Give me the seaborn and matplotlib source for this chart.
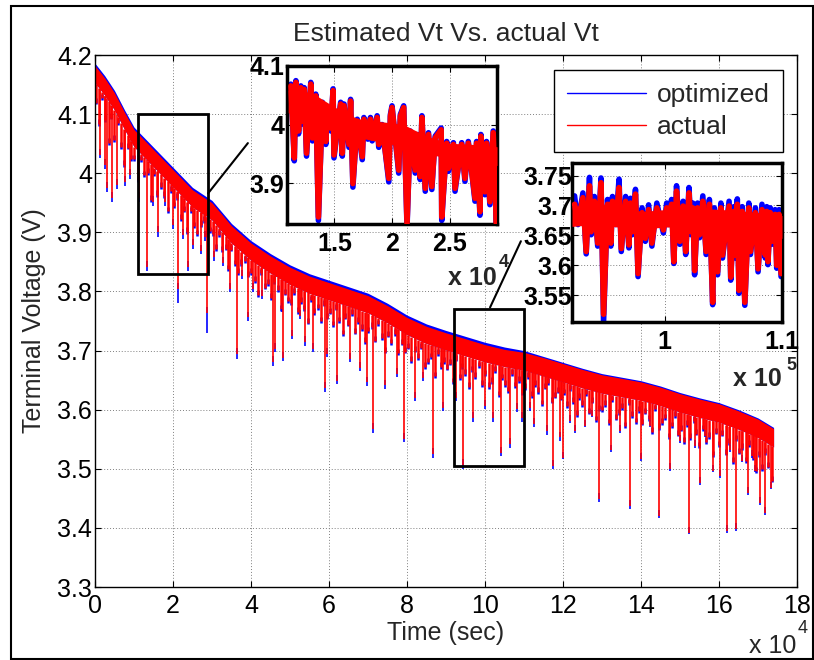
import numpy as np
import matplotlib
matplotlib.use("Agg")
import matplotlib.pyplot as plt
import seaborn as sns
from matplotlib.patches import Rectangle
from matplotlib.lines import Line2D

# time axis in units of 1e4 s
t_env = [0, 0.25, 0.5, 0.75, 1, 1.5, 2, 2.5, 3, 3.5, 4, 4.5, 5, 5.5, 6, 6.5, 7, 7.5, 8, 8.5,
         9, 9.5, 10, 10.5, 11, 11.5, 12, 12.5, 13, 13.5, 14, 14.5, 15, 15.5, 16, 16.5, 17, 17.4]
# upper edge of the dense voltage band
top_opt = [4.186, 4.165, 4.140, 4.108, 4.078, 4.044, 4.010, 3.976, 3.954, 3.915, 3.886, 3.864,
           3.845, 3.830, 3.819, 3.808, 3.797, 3.780, 3.760, 3.745, 3.734, 3.724, 3.714, 3.706,
           3.700, 3.690, 3.680, 3.670, 3.661, 3.655, 3.649, 3.640, 3.629, 3.620, 3.612, 3.600,
           3.586, 3.570]
top_act = [4.182, 4.161, 4.136, 4.104, 4.074, 4.040, 4.006, 3.972, 3.950, 3.911, 3.882, 3.860,
           3.841, 3.826, 3.815, 3.804, 3.793, 3.776, 3.756, 3.741, 3.730, 3.720, 3.710, 3.702,
           3.697, 3.688, 3.678, 3.668, 3.659, 3.653, 3.647, 3.638, 3.627, 3.618, 3.610, 3.598,
           3.584, 3.568]
# lower edge of the solid part of the band
band_mid = [4.153, 4.132, 4.107, 4.075, 4.045, 4.011, 3.977, 3.943, 3.921, 3.882, 3.853, 3.831,
            3.812, 3.797, 3.786, 3.775, 3.764, 3.747, 3.727, 3.712, 3.701, 3.691, 3.681, 3.673,
            3.667, 3.657, 3.647, 3.637, 3.628, 3.622, 3.616, 3.607, 3.596, 3.587, 3.579, 3.567,
            3.553, 3.537]

# many short dips below the band top (depth in V)
mod_t = [0.03, 0.10, 0.18, 0.26, 0.35, 0.42, 0.50, 0.59, 0.67, 0.75, 0.84, 0.92,
         1.01, 1.09, 1.18, 1.26, 1.35, 1.43, 1.52, 1.60, 1.69, 1.77, 1.86, 1.94,
         2.03, 2.11, 2.20, 2.28, 2.37, 2.45, 2.54, 2.62, 2.71, 2.79, 2.88, 2.96,
         3.03, 3.10, 3.18, 3.26, 3.35, 3.42, 3.50, 3.59, 3.67, 3.75, 3.84, 3.92,
         4.01, 4.09, 4.18, 4.26, 4.35, 4.43, 4.52, 4.60, 4.69, 4.77, 4.86, 4.94,
         5.03, 5.11, 5.20, 5.28, 5.37, 5.45, 5.54, 5.62, 5.71, 5.79, 5.88, 5.96,
         6.03, 6.10, 6.18, 6.26, 6.35, 6.42, 6.50, 6.59, 6.67, 6.75, 6.84, 6.92,
         7.01, 7.09, 7.18, 7.26, 7.35, 7.43, 7.52, 7.60, 7.69, 7.77, 7.86, 7.94,
         8.03, 8.11, 8.20, 8.28, 8.37, 8.45, 8.54, 8.62, 8.71, 8.79, 8.88, 8.96,
         9.03, 9.10, 9.18, 9.26, 9.35, 9.42, 9.50, 9.59, 9.67, 9.75, 9.84, 9.92,
         10.01, 10.09, 10.18, 10.26, 10.35, 10.43, 10.52, 10.60, 10.69, 10.77, 10.86, 10.94,
         11.03, 11.11, 11.20, 11.28, 11.37, 11.45, 11.54, 11.62, 11.71, 11.79, 11.88, 11.96,
         12.03, 12.10, 12.18, 12.26, 12.35, 12.42, 12.50, 12.59, 12.67, 12.75, 12.84, 12.92,
         13.01, 13.09, 13.18, 13.26, 13.35, 13.43, 13.52, 13.60, 13.69, 13.77, 13.86, 13.94,
         14.03, 14.11, 14.20, 14.28, 14.37, 14.45, 14.54, 14.62, 14.71, 14.79, 14.88, 14.96,
         15.03, 15.10, 15.18, 15.26, 15.35, 15.42, 15.50, 15.59, 15.67, 15.75, 15.84, 15.92,
         16.01, 16.09, 16.18, 16.26, 16.35, 16.43, 16.52, 16.60, 16.69, 16.77, 16.86, 16.94,
         17.03, 17.10, 17.18, 17.26, 17.35]
mod_depth = [0.06, 0.09, 0.04, 0.07, 0.10, 0.05, 0.08, 0.04, 0.07, 0.09, 0.05, 0.06,
             0.05, 0.08, 0.04, 0.06, 0.05, 0.09, 0.04, 0.07, 0.05, 0.06, 0.08, 0.04,
             0.06, 0.04, 0.07, 0.05, 0.08, 0.04, 0.06, 0.07, 0.05, 0.04, 0.06, 0.05,
             0.05, 0.07, 0.04, 0.06, 0.05, 0.08, 0.04, 0.06, 0.07, 0.05, 0.04, 0.06,
             0.05, 0.06, 0.08, 0.04, 0.06, 0.05, 0.07, 0.04, 0.05, 0.08, 0.05, 0.06,
             0.06, 0.04, 0.07, 0.05, 0.06, 0.08, 0.04, 0.06, 0.05, 0.07, 0.04, 0.06,
             0.05, 0.07, 0.04, 0.06, 0.08, 0.05, 0.06, 0.04, 0.07, 0.05, 0.06, 0.08,
             0.06, 0.05, 0.07, 0.04, 0.06, 0.08, 0.05, 0.06, 0.04, 0.07, 0.05, 0.06,
             0.05, 0.07, 0.05, 0.06, 0.04, 0.07, 0.06, 0.05, 0.08, 0.04, 0.06, 0.05,
             0.06, 0.05, 0.08, 0.04, 0.07, 0.05, 0.06, 0.08, 0.05, 0.06, 0.04, 0.07,
             0.05, 0.07, 0.06, 0.04, 0.08, 0.05, 0.06, 0.07, 0.04, 0.06, 0.05, 0.07,
             0.06, 0.04, 0.07, 0.05, 0.06, 0.08, 0.05, 0.04, 0.07, 0.06, 0.05, 0.06,
             0.05, 0.07, 0.04, 0.06, 0.08, 0.05, 0.06, 0.04, 0.07, 0.05, 0.08, 0.06,
             0.06, 0.05, 0.08, 0.04, 0.07, 0.06, 0.05, 0.08, 0.04, 0.06, 0.07, 0.05,
             0.07, 0.05, 0.06, 0.08, 0.04, 0.07, 0.06, 0.05, 0.08, 0.06, 0.04, 0.07,
             0.06, 0.08, 0.05, 0.07, 0.04, 0.06, 0.08, 0.05, 0.07, 0.06, 0.09, 0.05,
             0.07, 0.05, 0.08, 0.06, 0.09, 0.05, 0.07, 0.06, 0.08, 0.05, 0.07, 0.09,
             0.06, 0.08, 0.05, 0.07, 0.09]

# deep downward spikes (tips)
spike_t = [0.128, 0.256, 0.308, 0.436, 0.564, 0.769, 0.897,
           1.128, 1.333, 1.487, 1.615, 1.795, 2.000, 2.128, 2.256, 2.385, 2.513, 2.718, 2.821, 2.872,
           3.051, 3.282, 3.462, 3.641, 3.769, 3.923,
           4.051, 4.282, 4.564, 4.615, 4.795, 4.821,
           5.051, 5.256, 5.385, 5.590, 5.897, 5.949,
           6.205, 6.538, 6.795, 6.974,
           7.128, 7.436, 7.744, 7.923,
           8.205, 8.410, 8.667, 8.923,
           9.256, 9.436, 9.692,
           10.000, 10.205, 10.410, 10.641, 10.821, 10.949,
           11.154, 11.256, 11.590, 11.744, 11.923,
           12.000, 12.179, 12.308, 12.564, 12.744, 12.923,
           13.231, 13.462, 13.718,
           14.000, 14.231, 14.462, 14.744,
           15.000, 15.231, 15.385, 15.513, 15.641, 15.846,
           16.026, 16.205, 16.282, 16.436, 16.590, 16.744, 16.846, 16.923,
           17.051, 17.179, 17.333]
spike_act = [4.031, 4.014, 3.975, 3.958, 3.980, 3.985, 3.997,
             3.958, 3.841, 3.951, 3.900, 3.951, 3.912, 3.805, 3.895, 3.841, 3.878, 3.869, 3.892, 3.764,
             3.858, 3.849, 3.805, 3.695, 3.827, 3.756,
             3.805, 3.793, 3.680, 3.703, 3.771, 3.688,
             3.725, 3.759, 3.714, 3.703, 3.636, 3.695,
             3.649, 3.686, 3.671, 3.646,
             3.568, 3.641, 3.661, 3.551,
             3.620, 3.654, 3.525, 3.603,
             3.620, 3.507, 3.586,
             3.607, 3.586, 3.527, 3.542, 3.602, 3.586,
             3.603, 3.576, 3.564, 3.505, 3.553,
             3.519, 3.581, 3.564, 3.573, 3.590, 3.449,
             3.531, 3.564, 3.437,
             3.517, 3.573, 3.420, 3.500,
             3.547, 3.392, 3.539, 3.476, 3.556, 3.497,
             3.488, 3.395, 3.531, 3.398, 3.514, 3.459, 3.522, 3.497,
             3.442, 3.425, 3.468]
spike_opt = [4.025, 4.008, 3.969, 3.952, 3.974, 3.979, 3.991,
             3.952, 3.834, 3.945, 3.892, 3.945, 3.905, 3.780, 3.889, 3.835, 3.872, 3.863, 3.886, 3.729,
             3.852, 3.843, 3.799, 3.686, 3.821, 3.750,
             3.799, 3.787, 3.674, 3.697, 3.765, 3.682,
             3.719, 3.753, 3.708, 3.697, 3.630, 3.689,
             3.643, 3.680, 3.665, 3.640,
             3.560, 3.635, 3.655, 3.545,
             3.614, 3.648, 3.519, 3.597,
             3.614, 3.500, 3.580,
             3.601, 3.580, 3.521, 3.536, 3.596, 3.580,
             3.597, 3.570, 3.558, 3.500, 3.547,
             3.516, 3.578, 3.561, 3.570, 3.587, 3.444,
             3.528, 3.561, 3.432,
             3.514, 3.570, 3.417, 3.497,
             3.544, 3.389, 3.536, 3.473, 3.553, 3.494,
             3.485, 3.392, 3.528, 3.395, 3.511, 3.456, 3.519, 3.494,
             3.439, 3.422, 3.465]

# zoom 1 (1.1 - 2.9 x 1e4 s)
t_z1 = [1.124, 1.153, 1.167, 1.190, 1.210, 1.224, 1.239, 1.259, 1.296, 1.311,
        1.339, 1.362, 1.397, 1.426, 1.440, 1.469, 1.489, 1.497, 1.555, 1.569,
        1.584, 1.627, 1.641, 1.661, 1.699, 1.742, 1.756, 1.790, 1.813, 1.828,
        1.871, 1.885, 1.914, 1.972, 1.986, 2.000, 2.058, 2.072, 2.101, 2.130,
        2.158, 2.201, 2.216, 2.244, 2.259, 2.288, 2.316, 2.345, 2.374, 2.426,
        2.431, 2.474, 2.489, 2.532, 2.546, 2.604, 2.632, 2.661, 2.719, 2.733,
        2.762, 2.770, 2.805, 2.819, 2.848, 2.877, 2.905, 2.914]
v_z1_act = [4.066, 3.943, 4.072, 3.989, 4.063, 4.006, 4.060, 3.951, 4.069, 3.977,
            4.049, 3.842, 4.035, 3.971, 4.026, 3.994, 4.058, 3.948, 4.035, 3.951,
            4.032, 3.966, 4.040, 3.899, 4.006, 3.945, 4.009, 3.980, 4.009, 3.977,
            4.012, 3.966, 3.997, 3.908, 4.014, 4.029, 3.922, 4.014, 4.029, 3.831,
            3.986, 3.922, 3.980, 3.911, 4.012, 3.891, 3.983, 3.894, 3.977, 3.991,
            3.842, 3.968, 3.925, 3.966, 3.891, 3.966, 3.908, 3.968, 3.874, 3.968,
            3.851, 3.980, 3.885, 3.968, 3.868, 3.986, 3.831, 3.954]
v_z1_opt = [4.069, 3.938, 4.075, 3.984, 4.066, 4.001, 4.063, 3.946, 4.072, 3.972,
            4.052, 3.836, 4.038, 3.966, 4.029, 3.989, 4.061, 3.943, 4.038, 3.946,
            4.035, 3.961, 4.043, 3.893, 4.009, 3.940, 4.012, 3.975, 4.012, 3.972,
            4.015, 3.961, 4.000, 3.902, 4.017, 4.032, 3.917, 4.017, 4.032, 3.825,
            3.989, 3.917, 3.983, 3.906, 4.015, 3.886, 3.986, 3.889, 3.980, 3.994,
            3.836, 3.971, 3.920, 3.969, 3.886, 3.969, 3.903, 3.971, 3.869, 3.971,
            3.845, 3.983, 3.880, 3.971, 3.863, 3.989, 3.825, 3.957]
# solid core of the zoomed trace
z1_band_t = [1.10, 1.30, 1.50, 1.70, 1.90, 2.10, 2.30, 2.50, 2.70, 2.91]
z1_band_top = [4.058, 4.055, 4.030, 4.010, 4.005, 4.000, 3.980, 3.968, 3.966, 3.962]
z1_band_bot = [4.020, 4.012, 3.990, 3.978, 3.970, 3.962, 3.950, 3.942, 3.938, 3.930]

# zoom 2 (0.92 - 1.1 x 1e5 s)
t_z2 = [9.232, 9.261, 9.303, 9.331, 9.359, 9.373, 9.401, 9.429, 9.457, 9.479,
        9.513, 9.541, 9.555, 9.583, 9.611, 9.630, 9.667, 9.695, 9.709, 9.723,
        9.751, 9.773, 9.807, 9.835, 9.863, 9.891, 9.933, 9.989, 10.017, 10.031,
        10.059, 10.078, 10.101, 10.129, 10.157, 10.179, 10.207, 10.227, 10.240, 10.255,
        10.280, 10.297, 10.325, 10.353, 10.381, 10.409, 10.423, 10.451, 10.479, 10.493,
        10.549, 10.563, 10.590, 10.605, 10.619, 10.633, 10.661, 10.683, 10.717, 10.731,
        10.773, 10.796, 10.829, 10.857, 10.870, 10.880, 10.900, 10.913, 10.941, 10.955,
        10.975, 10.992]
v_z2_act = [3.702, 3.673, 3.713, 3.623, 3.733, 3.656, 3.707, 3.637, 3.738, 3.518,
            3.702, 3.637, 3.707, 3.673, 3.730, 3.628, 3.707, 3.634, 3.704, 3.656,
            3.719, 3.586, 3.688, 3.645, 3.693, 3.637, 3.696, 3.659, 3.696, 3.673,
            3.702, 3.606, 3.724, 3.640, 3.699, 3.623, 3.721, 3.656, 3.696, 3.591,
            3.696, 3.651, 3.707, 3.623, 3.702, 3.538, 3.688, 3.589, 3.696, 3.617,
            3.699, 3.580, 3.690, 3.617, 3.702, 3.558, 3.690, 3.538, 3.696, 3.623,
            3.688, 3.594, 3.693, 3.617, 3.690, 3.606, 3.688, 3.640, 3.685, 3.600,
            3.685, 3.586]
v_z2_opt = [3.716, 3.668, 3.721, 3.619, 3.747, 3.651, 3.715, 3.632, 3.746, 3.505,
            3.710, 3.632, 3.715, 3.668, 3.744, 3.623, 3.715, 3.629, 3.712, 3.651,
            3.727, 3.581, 3.696, 3.640, 3.701, 3.632, 3.704, 3.654, 3.704, 3.668,
            3.710, 3.603, 3.733, 3.635, 3.707, 3.618, 3.730, 3.651, 3.704, 3.584,
            3.704, 3.646, 3.716, 3.618, 3.710, 3.534, 3.696, 3.584, 3.704, 3.612,
            3.707, 3.575, 3.698, 3.612, 3.711, 3.553, 3.698, 3.533, 3.704, 3.618,
            3.696, 3.589, 3.702, 3.612, 3.698, 3.601, 3.696, 3.635, 3.693, 3.595,
            3.693, 3.581]
z2_band_t = [9.21, 9.40, 9.60, 9.80, 10.00, 10.20, 10.40, 10.60, 10.80, 11.00]
z2_band_top = [3.698, 3.702, 3.700, 3.690, 3.693, 3.698, 3.694, 3.692, 3.688, 3.683]
z2_band_bot = [3.665, 3.668, 3.664, 3.660, 3.664, 3.664, 3.658, 3.655, 3.650, 3.645]

zoom1_xlim, zoom1_ylim = (1.09, 2.91), (3.83, 4.10)
zoom2_xlim, zoom2_ylim = (9.21, 11.0), (3.505, 3.771)

sns.set_style("ticks")
plt.rcParams['font.family'] = ['Liberation Sans', 'DejaVu Sans']
FS = 18


def matlab_look(ax, bold=False):
    ax.grid(True, color='0.5', linestyle=(0, (1, 2)), linewidth=0.7)
    ax.set_axisbelow(True)
    ax.tick_params(direction='in', top=True, right=True, length=4, width=0.8,
                   labelsize=FS, colors='black')
    if bold:
        for lab in ax.get_xticklabels() + ax.get_yticklabels():
            lab.set_fontweight('bold')


def zoom_panel(rect, t, v_opt, v_act, bt, btop, bbot):
    axz = fig.add_axes(rect)
    axz.fill_between(bt, bbot, btop, color='red', lw=0, zorder=3)
    sns.lineplot(x=t, y=v_opt, sort=False, estimator=None, color='blue', lw=4, ax=axz, zorder=2)
    sns.lineplot(x=t, y=v_act, sort=False, estimator=None, color='red', lw=4, ax=axz, zorder=3)
    axz.set_xlabel('')
    axz.set_ylabel('')
    for s in axz.spines.values():
        s.set_linewidth(2.5)
        s.set_color('black')
    return axz


fig = plt.figure(figsize=(8.14, 6.60), dpi=100)
fig.patches.append(Rectangle((0.0135, 0.0015), 0.985, 0.989, transform=fig.transFigure,
                             fill=False, edgecolor='black', lw=1.5))

ax = fig.add_axes([0.1167, 0.1106, 0.8624, 0.806])

# main trace: solid band top, short dips, deep spikes (blue only shows at the tips)
ax.fill_between(t_env, band_mid, top_opt, color='blue', lw=0)
ax.fill_between(t_env, band_mid, top_act, color='red', lw=0)
mod_start = np.interp(mod_t, t_env, band_mid)
mod_tip = np.interp(mod_t, t_env, top_act) - np.array(mod_depth)
ax.vlines(mod_t, mod_tip - 0.003, mod_tip + 0.008, color='blue', lw=1.8)
ax.vlines(mod_t, mod_tip, mod_start, color='red', lw=1.8)
spk_start = np.interp(spike_t, t_env, band_mid)
ax.vlines(spike_t, spike_opt, np.array(spike_act) + 0.01, color='blue', lw=1.2)
ax.vlines(spike_t, spike_act, spk_start, color='red', lw=1.2)

ax.set_xlim(0, 18)
ax.set_ylim(3.3, 4.2)
ax.set_xticks(np.arange(0, 19, 2))
yt = np.round(np.arange(3.3, 4.21, 0.1), 1)
ax.set_yticks(yt)
ax.set_yticklabels(['%g' % v for v in yt])
matlab_look(ax)
ax.tick_params(axis='x', pad=5)
ax.tick_params(axis='y', pad=2)
for s in ax.spines.values():
    s.set_linewidth(1.0)
    s.set_color('black')
ax.set_title('Estimated Vt Vs. actual Vt', fontsize=19, pad=10)
ax.set_xlabel('Time (sec)', fontsize=FS, labelpad=2)
ax.set_ylabel('Terminal Voltage (V)', fontsize=FS, labelpad=8)

handles = [Line2D([], [], color='blue', lw=1), Line2D([], [], color='red', lw=1)]
leg = ax.legend(handles, ['optimized', 'actual'], loc='upper right',
                bbox_to_anchor=(0.962, 0.894), bbox_transform=fig.transFigure,
                fontsize=19, frameon=True, fancybox=False, edgecolor='black', framealpha=1,
                handlelength=3.0, borderaxespad=0, borderpad=0.5, labelspacing=0.3,
                handletextpad=0.4)
leg.get_frame().set_linewidth(1.0)

# zoom boxes on the main axes
for xl, yl in [(zoom1_xlim, zoom1_ylim), (zoom2_xlim, zoom2_ylim)]:
    ax.add_patch(Rectangle((xl[0], yl[0]), xl[1] - xl[0], yl[1] - yl[0],
                           fill=False, edgecolor='black', lw=2, zorder=5))
ax.plot([2.90, 3.92], [3.966, 4.051], color='black', lw=1.5, clip_on=False, zorder=5)
ax.plot([10.13, 10.92], [3.773, 3.885], color='black', lw=1.5, clip_on=False, zorder=5)

fig.text(0.949, 0.021, 'x 10', fontsize=FS, ha='center', va='center')
fig.text(0.986, 0.047, '4', fontsize=13, ha='center', va='center')

# inset 1
ax1 = zoom_panel([0.3526, 0.6606, 0.258, 0.2394], t_z1, v_z1_opt, v_z1_act,
                 z1_band_t, z1_band_top, z1_band_bot)
ax1.set_xlim(*zoom1_xlim)
ax1.set_ylim(*zoom1_ylim)
ax1.set_xticks([1.5, 2, 2.5])
ax1.set_xticklabels(['1.5', '2', '2.5'])
ax1.set_yticks([3.9, 4.0, 4.1])
ax1.set_yticklabels(['3.9', '4', '4.1'])
matlab_look(ax1, bold=True)
ax1.tick_params(axis='x', pad=6)
ax1.tick_params(axis='y', pad=2)
fig.text(0.580, 0.579, 'x 10', fontsize=FS, fontweight='bold', ha='center', va='center')
fig.text(0.619, 0.603, '4', fontsize=13, fontweight='bold', ha='center', va='center')

# inset 2
ax2 = zoom_panel([0.7027, 0.5121, 0.258, 0.2409], t_z2, v_z2_opt, v_z2_act,
                 z2_band_t, z2_band_top, z2_band_bot)
ax2.set_xlim(*zoom2_xlim)
ax2.set_ylim(*zoom2_ylim)
ax2.set_xticks([10, 11])
ax2.set_xticklabels(['1', '1.1'])
ax2.set_yticks([3.55, 3.6, 3.65, 3.7, 3.75])
ax2.set_yticklabels(['3.55', '3.6', '3.65', '3.7', '3.75'])
matlab_look(ax2, bold=True)
ax2.tick_params(axis='x', pad=6)
ax2.tick_params(axis='y', pad=0)
fig.text(0.931, 0.425, 'x 10', fontsize=FS, fontweight='bold', ha='center', va='center')
fig.text(0.972, 0.446, '5', fontsize=13, fontweight='bold', ha='center', va='center')

fig.savefig('out.png', dpi=100)
